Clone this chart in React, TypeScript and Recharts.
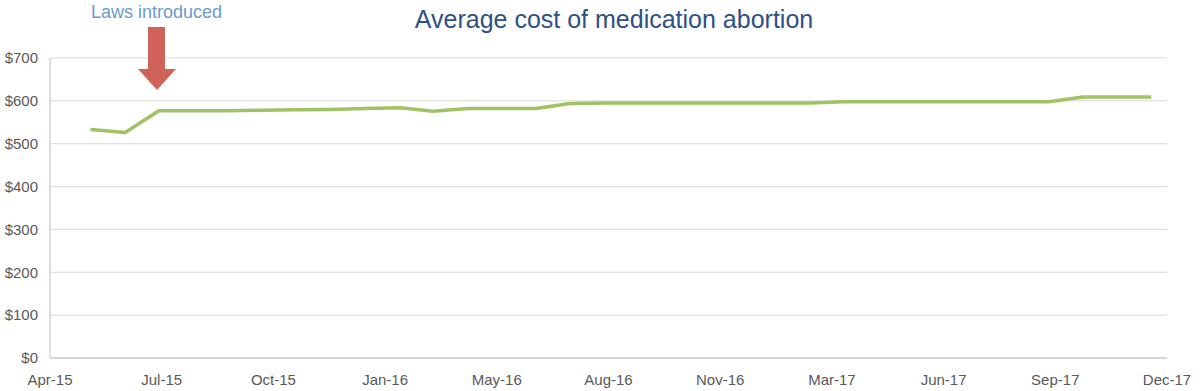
import {LineChart, Line, XAxis, YAxis, CartesianGrid} from 'recharts';

import type {ReactElement} from 'react';

// Monthly observations, May-15 through Dec-17
const months = [
	'2015-05', '2015-06', '2015-07', '2015-08', '2015-09', '2015-10', '2015-11', '2015-12',
	'2016-01', '2016-02', '2016-03', '2016-04', '2016-05', '2016-06', '2016-07', '2016-08',
	'2016-09', '2016-10', '2016-11', '2016-12', '2017-01', '2017-02', '2017-03', '2017-04',
	'2017-05', '2017-06', '2017-07', '2017-08', '2017-09', '2017-10', '2017-11', '2017-12'
];

const averageCost = [
	533, 526, 577, 577, 577, 578, 579, 580,
	582, 584, 576, 582, 582, 582, 594, 595,
	595, 595, 595, 595, 595, 595, 598, 598,
	598, 598, 598, 598, 598, 609, 609, 609
];

const xTickLabels = ['Apr-15', 'Jul-15', 'Oct-15', 'Jan-16', 'May-16', 'Aug-16', 'Nov-16', 'Mar-17', 'Jun-17', 'Sep-17', 'Dec-17'];
const yTicks = [0, 100, 200, 300, 400, 500, 600, 700];

const X_START = Date.UTC(2015, 3, 9);
const X_END = Date.UTC(2017, 11, 29);

function toTime(month: string): number {
	const [y, m] = month.split('-').map(Number);
	return Date.UTC(y, m - 1, 15);
}

const chartData = months.map((m, i) => ({t: toTime(m), cost: averageCost[i]}));
const xTicks = xTickLabels.map((_, i) => X_START + (i * (X_END - X_START)) / (xTickLabels.length - 1));

const FONT = '"Liberation Sans", Arial, sans-serif';

function App(): ReactElement {
	return (
		<div style={{position: 'absolute', left: 0, top: 0, width: 1200, height: 391, background: '#fff', fontFamily: FONT}}>
			<LineChart width={1200} height={391} data={chartData} margin={{top: 58, right: 33, left: 0, bottom: 3}}>
				<CartesianGrid vertical={false} stroke={'#d9d9d9'} />
				<XAxis
					dataKey={'t'}
					type={'number'}
					domain={[X_START, X_END]}
					ticks={xTicks}
					interval={0}
					tickFormatter={(_v: number, i: number) => xTickLabels[i]}
					tickLine={false}
					tickSize={0}
					tickMargin={16}
					height={30}
					axisLine={{stroke: '#bfbfbf'}}
					tick={{fontSize: 15, fill: '#595959', fontFamily: FONT}}
				/>
				<YAxis
					domain={[0, 700]}
					ticks={yTicks}
					tickFormatter={(v: number) => `$${v}`}
					tickLine={false}
					tickSize={0}
					tickMargin={12}
					width={50}
					axisLine={{stroke: '#bfbfbf'}}
					tick={{fontSize: 15, fill: '#595959', fontFamily: FONT}}
				/>
				<Line
					type={'linear'}
					dataKey={'cost'}
					stroke={'#9fc262'}
					strokeWidth={3.5}
					dot={false}
					isAnimationActive={false}
				/>
			</LineChart>
			<div style={{position: 'absolute', left: 0, width: 1228, top: 5, textAlign: 'center', fontSize: 25, color: '#2f5083', whiteSpace: 'nowrap'}}>
				{'Average cost of medication abortion'}
			</div>
			<div style={{position: 'absolute', left: 91, top: 2, fontSize: 18, color: '#6b9ad3', whiteSpace: 'nowrap'}}>
				{'Laws introduced'}
			</div>
			<svg style={{position: 'absolute', left: 0, top: 0}} width={200} height={100}>
				<polygon points={'148,27 165,27 165,69 176,69 157,90 138,69 148,69'} fill={'#cf6259'} />
			</svg>
		</div>
	);
}

export default App;
